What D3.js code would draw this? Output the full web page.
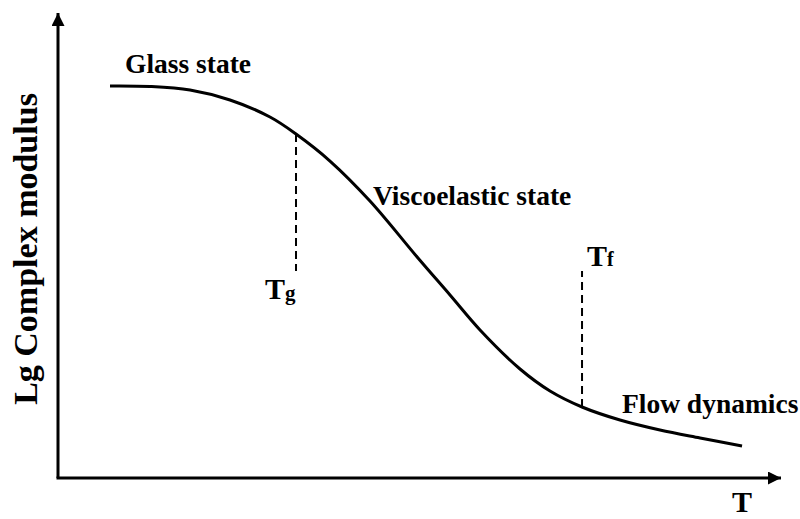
<!DOCTYPE html>
<html>
<head>
<meta charset="utf-8">
<script src="https://cdn.jsdelivr.net/npm/d3@7"></script>
<style>
  body { margin: 0; background: #fff; }
  text { font-family: "Liberation Serif", "Times New Roman", serif; font-weight: bold; fill: #000; }
</style>
</head>
<body>
<div id="chart"></div>
<script>
// schematic curve, arbitrary units (0-100 on both axes)
const temperature = [7.19, 12.72, 18.26, 23.79, 29.32, 32.92, 37.62, 43.15, 49.79, 54.22, 58.37, 63.90, 68.05, 72.48, 77.73, 83.26, 88.80, 94.61];
const lgModulus   = [84.30, 84.19, 83.44, 81.29, 77.63, 73.98, 68.17, 59.57, 47.31, 39.35, 31.83, 23.44, 18.71, 15.27, 12.47, 10.32, 8.60, 6.88];

// transition temperatures
const Tg = 32.92, Tf = 72.48;
const markerLevel = 44.5;

const stateLabels = [
    {text: "Glass state", x: 9.27, y: 87.1},
    {text: "Viscoelastic state", x: 43.57, y: 58.7},
    {text: "Flow dynamics", x: 78.0, y: 14.0}
];

const width = 800, height = 519;

const svg = d3.select("#chart")
    .append("svg")
    .attr("width", width)
    .attr("height", height);

const x = d3.scaleLinear().domain([0, 100]).range([58, 781]);
const y = d3.scaleLinear().domain([0, 100]).range([478, 13]);

const data = temperature.map((t, i) => ({t: t, m: lgModulus[i]}));

// arrow heads
svg.append("defs").append("marker")
    .attr("id", "arrow")
    .attr("viewBox", "0 0 10 10")
    .attr("refX", 10)
    .attr("refY", 5)
    .attr("markerUnits", "userSpaceOnUse")
    .attr("markerWidth", 14)
    .attr("markerHeight", 13)
    .attr("orient", "auto")
    .append("path")
    .attr("d", "M0,0 L10,5 L0,10 Z")
    .attr("fill", "#000");

// axes
svg.append("path")
    .attr("d", `M${x(0)},${y(0)} L${x(0)},${y(100)}`)
    .attr("stroke", "#000")
    .attr("stroke-width", 3)
    .attr("fill", "none")
    .attr("marker-end", "url(#arrow)");

svg.append("path")
    .attr("d", `M${x(0) - 1.5},${y(0)} L${x(100)},${y(0)}`)
    .attr("stroke", "#000")
    .attr("stroke-width", 3)
    .attr("fill", "none")
    .attr("marker-end", "url(#arrow)");

// curve
const line = d3.line()
    .x(d => x(d.t))
    .y(d => y(d.m))
    .curve(d3.curveCatmullRom.alpha(0.5));

svg.append("path")
    .datum(data)
    .attr("d", line)
    .attr("fill", "none")
    .attr("stroke", "#000")
    .attr("stroke-width", 3);

// modulus at a temperature, read along the data
const modAt = t => {
    const i = d3.bisector(d => d.t).left(data, t);
    if (i <= 0) return data[0].m;
    if (i >= data.length) return data[data.length - 1].m;
    const a = data[i - 1], b = data[i];
    return a.m + (b.m - a.m) * (t - a.t) / (b.t - a.t);
};

// dashed transition lines
[Tg, Tf].forEach(t => {
    svg.append("line")
        .attr("x1", x(t)).attr("x2", x(t))
        .attr("y1", y(modAt(t)))
        .attr("y2", y(markerLevel))
        .attr("stroke", "#000")
        .attr("stroke-width", 2)
        .attr("stroke-dasharray", "8 5");
});

// Tg label
const tg = svg.append("text")
    .attr("x", x(Tg) - 31)
    .attr("y", y(markerLevel) + 28)
    .attr("font-size", 30);
tg.append("tspan").text("T");
tg.append("tspan").attr("font-size", 21).attr("dy", 1).text("g");

// Tf label
const tf = svg.append("text")
    .attr("x", x(Tf) + 5)
    .attr("y", y(markerLevel) - 5)
    .attr("font-size", 30);
tf.append("tspan").text("T");
tf.append("tspan").attr("font-size", 20).text("f");

// state labels
svg.selectAll(".state")
    .data(stateLabels)
    .join("text")
    .attr("class", "state")
    .attr("x", d => x(d.x))
    .attr("y", d => y(d.y))
    .attr("font-size", 27.5)
    .text(d => d.text);

// axis titles
svg.append("text")
    .attr("text-anchor", "middle")
    .attr("transform", `translate(37, 249) rotate(-90)`)
    .attr("font-size", 34)
    .text("Lg Complex modulus");

svg.append("text")
    .attr("x", 742)
    .attr("y", 512)
    .attr("text-anchor", "middle")
    .attr("font-size", 30)
    .text("T");
</script>
</body>
</html>
